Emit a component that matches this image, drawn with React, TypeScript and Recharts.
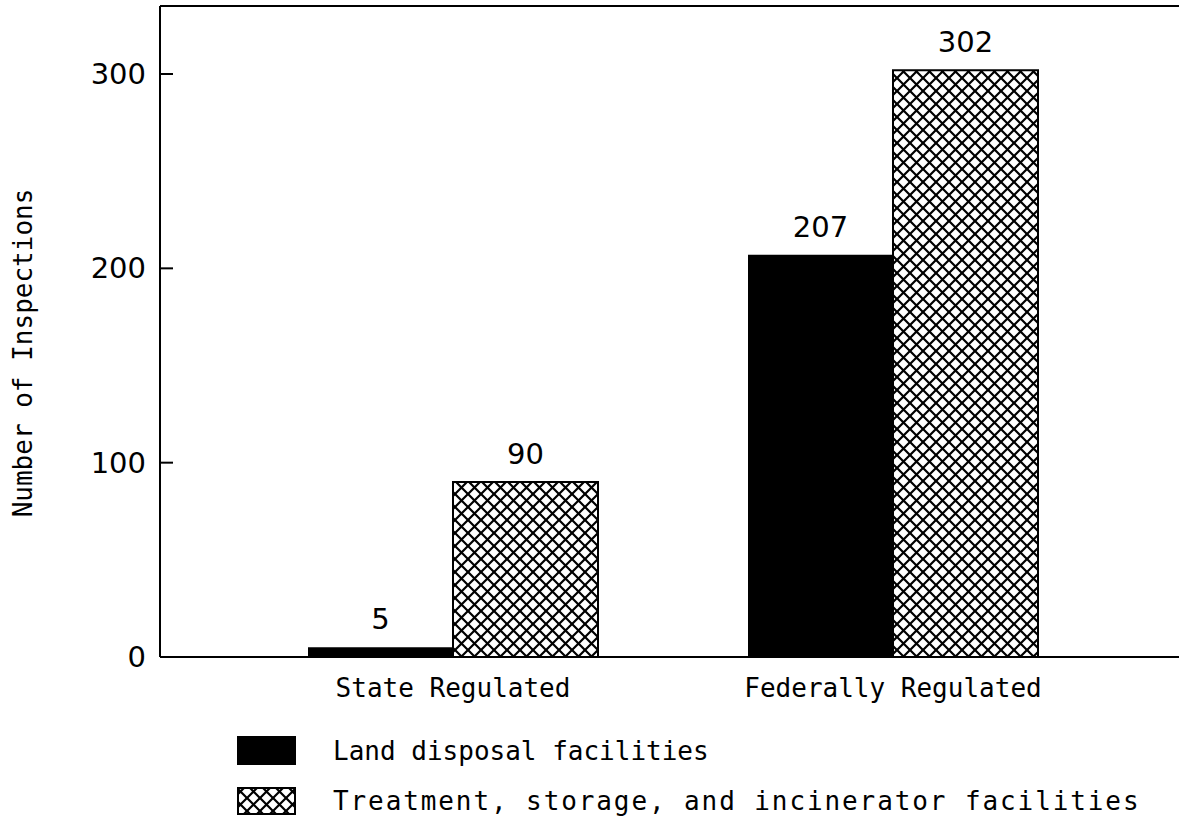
import React from 'react';
import {
    BarChart,
    Bar,
    XAxis,
    YAxis,
    Label,
    LabelList,
    Legend,
    ReferenceLine,
} from 'recharts';

const categories = ['State Regulated', 'Federally Regulated'];
const landDisposal = [5, 207];
const treatmentStorage = [90, 302];
const yTicks = [0, 100, 200, 300];
const yMax = 335;
const seriesNames = [
    'Land disposal facilities',
    'Treatment, storage, and incinerator facilities',
];

const data = categories.map((category, i) => ({
    category,
    land: landDisposal[i],
    tsi: treatmentStorage[i],
}));

const MONO = '"DejaVu Sans Mono", monospace';
const DIGITS = '"DejaVu Sans", sans-serif';

const HatchDefs = ({ id }: { id: string }) => (
    <defs>
        <pattern id={id} patternUnits="userSpaceOnUse" width={13} height={13}>
            <rect width={13} height={13} fill="#fff" />
            <path d="M0,0 L13,13 M13,0 L0,13" stroke="#000" strokeWidth={2.2} />
            <path d="M-1,12 L1,14 M12,-1 L14,1 M-1,1 L1,-1 M12,14 L14,12" stroke="#000" strokeWidth={2.2} />
        </pattern>
    </defs>
);

const YTick = (props: any) => {
    const { x, y, payload } = props;
    return (
        <text
            x={Number(x)}
            y={Number(y)}
            textAnchor="end"
            dominantBaseline="central"
            fontFamily={DIGITS}
            fontSize={29}
            fill="#000"
        >
            {payload.value}
        </text>
    );
};

// axis title plus the short inward tick marks on the plot side of the y axis
const YAxisTitle = (props: any) => {
    const vb = props.viewBox || {};
    const top = vb.y ?? 6;
    const h = vb.height ?? 651;
    const axisX = (vb.x ?? 0) + (vb.width ?? 160);
    return (
        <g>
            {yTicks.map((t) => {
                const ty = top + h * (1 - t / yMax);
                return (
                    <path
                        key={t}
                        d={`M${axisX},${ty} L${axisX + 13},${ty}`}
                        stroke="#000"
                        strokeWidth={2}
                        fill="none"
                    />
                );
            })}
            <text
                x={32}
                y={353}
                transform="rotate(-90 32 353)"
                textAnchor="middle"
                fontFamily={MONO}
                fontSize={26}
                fill="#000"
            >
                Number of Inspections
            </text>
        </g>
    );
};

const renderLegend = () => (
    <svg width={1179} height={110}>
        <HatchDefs id="hatch-legend" />
        <rect x={237} y={16} width={59} height={29} fill="#000" />
        <text x={333} y={31} dominantBaseline="central" fontFamily={MONO} fontSize={26} fill="#000">
            {seriesNames[0]}
        </text>
        <rect
            x={238}
            y={68}
            width={57}
            height={26}
            fill="url(#hatch-legend)"
            stroke="#000"
            strokeWidth={2}
        />
        <text
            x={333}
            y={81}
            dominantBaseline="central"
            fontFamily={MONO}
            fontSize={26}
            letterSpacing={1.9}
            fill="#000"
        >
            {seriesNames[1]}
        </text>
    </svg>
);

export default function App() {
    return (
        <div style={{ position: 'absolute', left: 0, top: 0, width: 1179, height: 833, background: '#fff' }}>
            <BarChart
                width={1179}
                height={833}
                data={data}
                margin={{ top: 6, right: 0, left: 0, bottom: 116 }}
                barSize={145}
                barGap={0}
            >
                <HatchDefs id="hatch" />
                <XAxis
                    dataKey="category"
                    height={60}
                    padding={{ left: 73, right: 66 }}
                    axisLine={{ stroke: '#000', strokeWidth: 2 }}
                    tickLine={false}
                    tickSize={0}
                    tickMargin={22}
                    tick={{ fill: '#000', fontSize: 26, fontFamily: MONO }}
                />
                <YAxis
                    width={160}
                    domain={[0, yMax]}
                    ticks={yTicks}
                    allowDataOverflow
                    axisLine={{ stroke: '#000', strokeWidth: 2 }}
                    tickLine={false}
                    tickSize={0}
                    tickMargin={14}
                    tick={<YTick />}
                >
                    <Label content={(p: any) => <YAxisTitle {...p} />} />
                </YAxis>
                <ReferenceLine y={yMax} stroke="#000" strokeWidth={2} />
                <Legend
                    layout="vertical"
                    align="center"
                    verticalAlign="middle"
                    content={renderLegend}
                    wrapperStyle={{ position: 'absolute', left: 0, top: 720, width: 1179, height: 110 }}
                />
                <Bar dataKey="land" name={seriesNames[0]} fill="#000" isAnimationActive={false}>
                    <LabelList
                        dataKey="land"
                        position="top"
                        offset={18}
                        fill="#000"
                        fontSize={29}
                        fontFamily={DIGITS}
                    />
                </Bar>
                <Bar
                    dataKey="tsi"
                    name={seriesNames[1]}
                    fill="url(#hatch)"
                    stroke="#000"
                    strokeWidth={2}
                    isAnimationActive={false}
                >
                    <LabelList
                        dataKey="tsi"
                        position="top"
                        offset={18}
                        fill="#000"
                        fontSize={29}
                        fontFamily={DIGITS}
                    />
                </Bar>
            </BarChart>
        </div>
    );
}
